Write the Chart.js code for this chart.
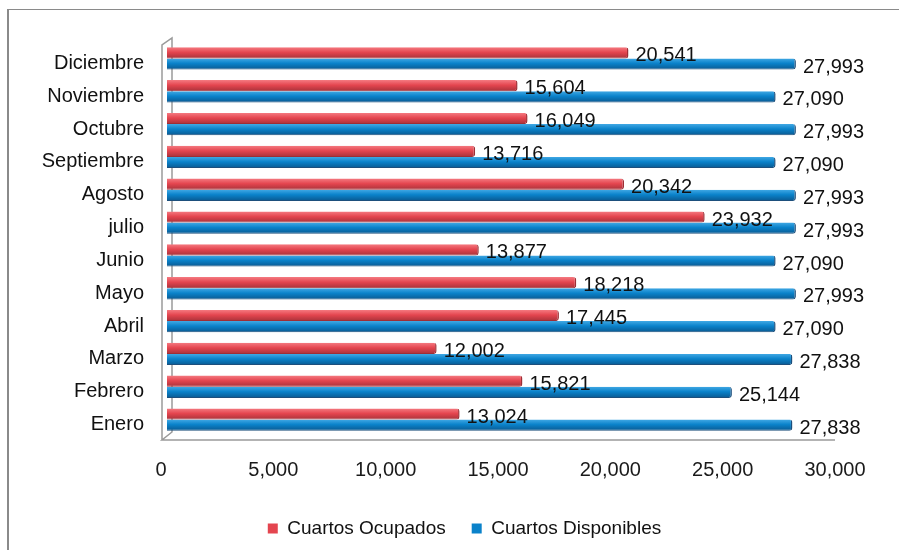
<!DOCTYPE html>
<html lang="es">
  <head>
    <meta charset="UTF-8" />
    <title>Cuartos Ocupados y Disponibles</title>
    <script src="https://cdn.jsdelivr.net/npm/chart.js"></script>
    <style>
      html, body {
        margin: 0;
        padding: 0;
        background: #ffffff;
        overflow: hidden;
      }
      .marco {
        position: absolute;
        left: 7px;
        top: 9px;
        width: 900px;
        height: 560px;
        border-top: 1px solid #8a8a8a;
        border-left: 2px solid #8a8a8a;
      }
      #grafico {
        position: absolute;
        left: 0;
        top: 0;
      }
    </style>
  </head>
  <body>
    <div class="marco"></div>
    <canvas id="grafico" width="899" height="570"></canvas>

    <script>
      // Meses (de Enero a Diciembre)
      const meses = [
        "Enero", "Febrero", "Marzo", "Abril", "Mayo", "Junio",
        "julio", "Agosto", "Septiembre", "Octubre", "Noviembre", "Diciembre",
      ];
      const ocupados = [
        13024, 15821, 12002, 17445, 18218, 13877,
        23932, 20342, 13716, 16049, 15604, 20541,
      ];
      const disponibles = [
        27838, 25144, 27838, 27090, 27993, 27090,
        27993, 27993, 27090, 27993, 27090, 27993,
      ];
      const ticksX = [0, 5000, 10000, 15000, 20000, 25000, 30000];

      const fuente = "'Liberation Sans', Arial, sans-serif";
      const fmt = (v) => Number(v).toLocaleString("en-US");

      // Diciembre arriba, Enero abajo
      const etiquetas = meses.slice().reverse();

      // degradado vertical para que las barras parezcan cilindros
      function degradado(ctx, claro, medio, oscuro, lado) {
        const chart = ctx.chart;
        const ys = chart.scales.y;
        if (!ys || ctx.type !== "data" || !chart.chartArea) return medio;
        const c = ys.getPixelForValue(ctx.dataIndex) + lado * 5.5;
        const g = chart.ctx.createLinearGradient(0, c - 5.5, 0, c + 5.5);
        g.addColorStop(0, claro);
        g.addColorStop(0.45, medio);
        g.addColorStop(1, oscuro);
        return g;
      }

      // pared y piso del eje (efecto 3D)
      const pared = {
        id: "pared",
        beforeDatasetsDraw(chart) {
          const { ctx, chartArea: ca } = chart;
          const fx = ca.left - 5;
          const bx = ca.left + 5;
          ctx.save();
          ctx.strokeStyle = "#9a9a9a";
          ctx.lineWidth = 1.5;
          ctx.beginPath();
          ctx.moveTo(fx, ca.bottom + 4);
          ctx.lineTo(fx, ca.top + 3);
          ctx.lineTo(bx, ca.top - 4);
          ctx.lineTo(bx, ca.bottom - 4);
          ctx.lineTo(fx, ca.bottom + 4);
          ctx.lineTo(ca.right - 6, ca.bottom + 4);
          ctx.stroke();
          ctx.restore();
        },
      };

      // valores al final de cada barra
      const valores = {
        id: "valores",
        afterDatasetsDraw(chart) {
          const ctx = chart.ctx;
          ctx.save();
          ctx.font = "20px " + fuente;
          ctx.fillStyle = "#111111";
          ctx.textAlign = "left";
          ctx.textBaseline = "middle";
          chart.data.datasets.forEach((ds, i) => {
            chart.getDatasetMeta(i).data.forEach((bar, j) => {
              ctx.fillText(fmt(ds.data[j]), bar.x + 7, bar.y + 3);
            });
          });
          ctx.restore();
        },
      };

      // la leyenda va algo corrida a la derecha
      const leyenda = {
        id: "leyenda",
        afterLayout(chart) {
          chart.legend.left += 44;
          chart.legend.right += 44;
        },
      };

      new Chart(document.getElementById("grafico"), {
        type: "bar",
        data: {
          labels: etiquetas,
          datasets: [
            {
              label: "Cuartos Ocupados",
              data: ocupados.slice().reverse(),
              backgroundColor: (c) => degradado(c, "#f4787f", "#e4454f", "#a8323a", -1),
              borderColor: "#9e2e35",
              borderWidth: { right: 1.5, bottom: 1 },
              borderRadius: { topRight: 3, bottomRight: 3 },
              borderSkipped: "left",
            },
            {
              label: "Cuartos Disponibles",
              data: disponibles.slice().reverse(),
              backgroundColor: (c) => degradado(c, "#40a8e4", "#0a82ca", "#0a5a92", 1),
              borderColor: "#1d4f7c",
              borderWidth: { right: 1.5, bottom: 1 },
              borderRadius: { topRight: 3, bottomRight: 3 },
              borderSkipped: "left",
            },
          ],
        },
        options: {
          indexAxis: "y",
          responsive: false,
          animation: false,
          layout: {
            padding: { left: 0, right: 58, top: 42, bottom: 22 },
          },
          datasets: {
            bar: { categoryPercentage: 0.68, barPercentage: 1.0 },
          },
          scales: {
            x: {
              min: 0,
              max: 30000,
              afterBuildTicks: (s) => {
                s.ticks = ticksX.map((v) => ({ value: v }));
              },
              afterFit: (s) => {
                s.height = 57;
              },
              grid: { display: false, drawTicks: false },
              border: { display: false },
              ticks: {
                padding: 22,
                labelOffset: -6,
                maxRotation: 0,
                color: "#1a1a1a",
                font: { family: fuente, size: 20 },
                callback: (v) => fmt(v),
              },
            },
            y: {
              afterFit: (s) => {
                s.width = 167;
              },
              grid: { display: false, drawTicks: false },
              border: { display: false },
              ticks: {
                padding: 23,
                labelOffset: 5,
                autoSkip: false,
                color: "#111111",
                font: { family: fuente, size: 20 },
              },
            },
          },
          plugins: {
            legend: {
              position: "bottom",
              labels: {
                boxWidth: 10,
                boxHeight: 10,
                padding: 26,
                color: "#111111",
                font: { family: fuente, size: 19 },
                generateLabels: (chart) =>
                  chart.data.datasets.map((ds, i) => ({
                    text: ds.label,
                    fillStyle: i === 0 ? "#e4454f" : "#0a82ca",
                    strokeStyle: i === 0 ? "#e4454f" : "#0a82ca",
                    lineWidth: 0,
                    fontColor: "#111111",
                    datasetIndex: i,
                  })),
              },
            },
            tooltip: { enabled: false },
          },
        },
        plugins: [pared, valores, leyenda],
      });
    </script>
  </body>
</html>
